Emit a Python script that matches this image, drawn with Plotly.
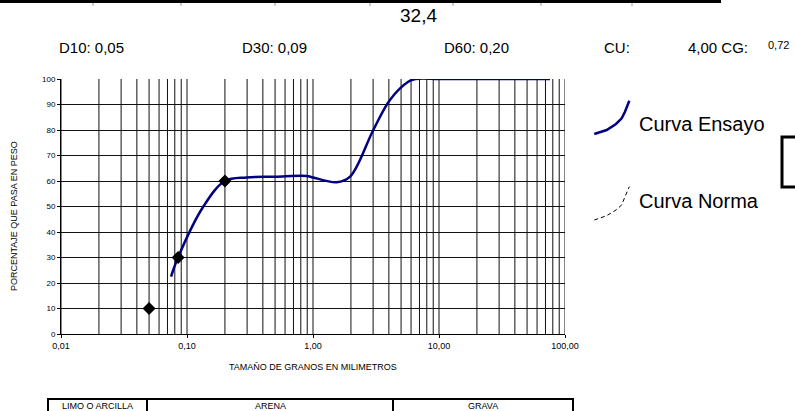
import plotly.graph_objects as go

# ---- data ----
curve_x = [0.0747, 0.0853, 0.1345, 0.2, 0.298, 0.5, 0.89, 1.0, 1.54, 1.97, 3.01, 4.08, 5.7, 6.5, 10, 20, 40, 76]
curve_y = [22.5, 30.3, 49.9, 60.0, 61.4, 61.7, 62.0, 61.4, 59.5, 61.7, 80.0, 91.8, 98.9, 100, 100, 100, 100, 100]

d_points_x = [0.05, 0.085, 0.2]
d_points_y = [10, 30, 60]

x_tick_vals = [0.01, 0.1, 1, 10, 100]
x_tick_text = ["0,01", "0,10", "1,00", "10,00", "100,00"]
y_tick_vals = [0, 10, 20, 30, 40, 50, 60, 70, 80, 90, 100]

header_value = "32,4"
stats_labels = ["D10: 0,05", "D30: 0,09", "D60: 0,20", "CU:", "4,00 CG:"]
cg_value = "0,72"
legend_labels = ["Curva Ensayo", "Curva Norma"]
soil_classes = ["LIMO O ARCILLA", "ARENA", "GRAVA"]

# ---- layout geometry (pixels) ----
W, H = 795, 411
L, R, T, B = 61, 565, 79, 334
FONT = "Liberation Sans, Arial, sans-serif"


def px(x):
    return (x - L) / (R - L)


def py(y):
    return (B - y) / (B - T)


fig = go.Figure()

fig.add_trace(go.Scatter(
    x=curve_x, y=curve_y, mode="lines",
    line=dict(color="#000080", width=2.5, shape="spline", smoothing=1.0),
    hoverinfo="skip", showlegend=False,
))
fig.add_trace(go.Scatter(
    x=d_points_x, y=d_points_y, mode="markers",
    marker=dict(symbol="diamond", size=10, color="black"),
    showlegend=False,
))

shapes = []
# vertical log grid lines
for dec in [0.01, 0.1, 1, 10]:
    for k in range(1, 10):
        shapes.append(dict(type="line", xref="x", yref="y", x0=k * dec, x1=k * dec, y0=0, y1=100,
                           line=dict(color="#111", width=1), layer="below"))
shapes.append(dict(type="line", xref="x", yref="y", x0=100, x1=100, y0=0, y1=100,
                   line=dict(color="#111", width=1), layer="below"))

# top heavy line with small ticks
shapes.append(dict(type="rect", xref="paper", yref="paper", x0=px(0), x1=px(721), y0=py(0), y1=py(3),
                   line=dict(width=0), fillcolor="black"))
for tx in [93, 181, 275, 370, 453, 541, 632]:
    shapes.append(dict(type="line", xref="paper", yref="paper", x0=px(tx), x1=px(tx), y0=py(3), y1=py(6),
                       line=dict(color="#999", width=1)))

# legend samples
def path(pts):
    s = "M " + " L ".join(f"{px(a):.4f},{py(b):.4f}" for a, b in pts)
    return s

ens = [(594.3, 134), (606.7, 130), (616, 124), (621.7, 118.3), (625, 111.7), (629.3, 100.7)]
nor = [(594.3, 220), (606.7, 215.7), (616, 210), (621.7, 205), (625, 196.7), (629.3, 186.7)]
shapes.append(dict(type="path", xref="paper", yref="paper", path=path(ens),
                   line=dict(color="#000080", width=2.5)))
shapes.append(dict(type="path", xref="paper", yref="paper", path=path(nor),
                   line=dict(color="black", width=1, dash="4px,3px")))

# small box at right
shapes.append(dict(type="rect", xref="paper", yref="paper", x0=px(782), x1=px(812), y0=py(137), y1=py(187),
                   line=dict(color="black", width=3)))

# bottom classification table
shapes.append(dict(type="rect", xref="paper", yref="paper", x0=px(48), x1=px(573), y0=py(399), y1=py(425),
                   line=dict(color="black", width=2)))
for dx in [147, 393]:
    shapes.append(dict(type="line", xref="paper", yref="paper", x0=px(dx), x1=px(dx), y0=py(399), y1=py(425),
                       line=dict(color="black", width=2)))

ann = []

def text(x, y, s, size, xanchor="center", yanchor="middle", angle=0):
    ann.append(dict(x=px(x), y=py(y), xref="paper", yref="paper", text=s, showarrow=False,
                    xanchor=xanchor, yanchor=yanchor, textangle=angle,
                    font=dict(family=FONT, size=size, color="black")))

text(418, 15, header_value, 19)
text(57, 47.5, stats_labels[0], 15, xanchor="left")
text(240, 47.5, stats_labels[1], 15, xanchor="left")
text(442, 47.5, stats_labels[2], 15, xanchor="left")
text(602, 47.5, stats_labels[3], 15, xanchor="left")
text(686, 47.5, stats_labels[4], 15, xanchor="left")
text(766, 45, cg_value, 11, xanchor="left")

text(637, 124, legend_labels[0], 20, xanchor="left")
text(637, 201, legend_labels[1], 20, xanchor="left")

text(313, 367, "TAMAÑO DE GRANOS EN MILIMETROS", 9)
text(14, 216, "PORCENTAJE QUE PASA EN PESO", 9, angle=-90)

text(97, 406.5, soil_classes[0], 9)
text(270, 406.5, soil_classes[1], 9)
text(483, 406.5, soil_classes[2], 9)

fig.update_layout(
    width=W, height=H, autosize=False,
    margin=dict(l=L, r=W - R, t=T, b=H - B, pad=0),
    paper_bgcolor="white", plot_bgcolor="white",
    shapes=shapes, annotations=ann, showlegend=False,
    font=dict(family=FONT, color="black"),
    xaxis=dict(type="log", range=[-2, 2], tickvals=x_tick_vals, ticktext=x_tick_text,
               ticks="outside", ticklen=3, tickcolor="black", showgrid=False, zeroline=False,
               showline=True, linecolor="black", linewidth=1, tickfont=dict(size=9, family=FONT)),
    yaxis=dict(range=[0, 100], tickvals=y_tick_vals, ticks="outside", ticklen=3, tickcolor="black",
               showgrid=True, gridcolor="#111", gridwidth=1, zeroline=False,
               showline=True, linecolor="black", linewidth=1, tickfont=dict(size=8, family=FONT)),
)

fig.write_html(
    "out.html",
    config={"displayModeBar": False},
    post_script="document.body.style.margin='0';document.body.style.padding='0';document.body.style.overflow='hidden';",
)
